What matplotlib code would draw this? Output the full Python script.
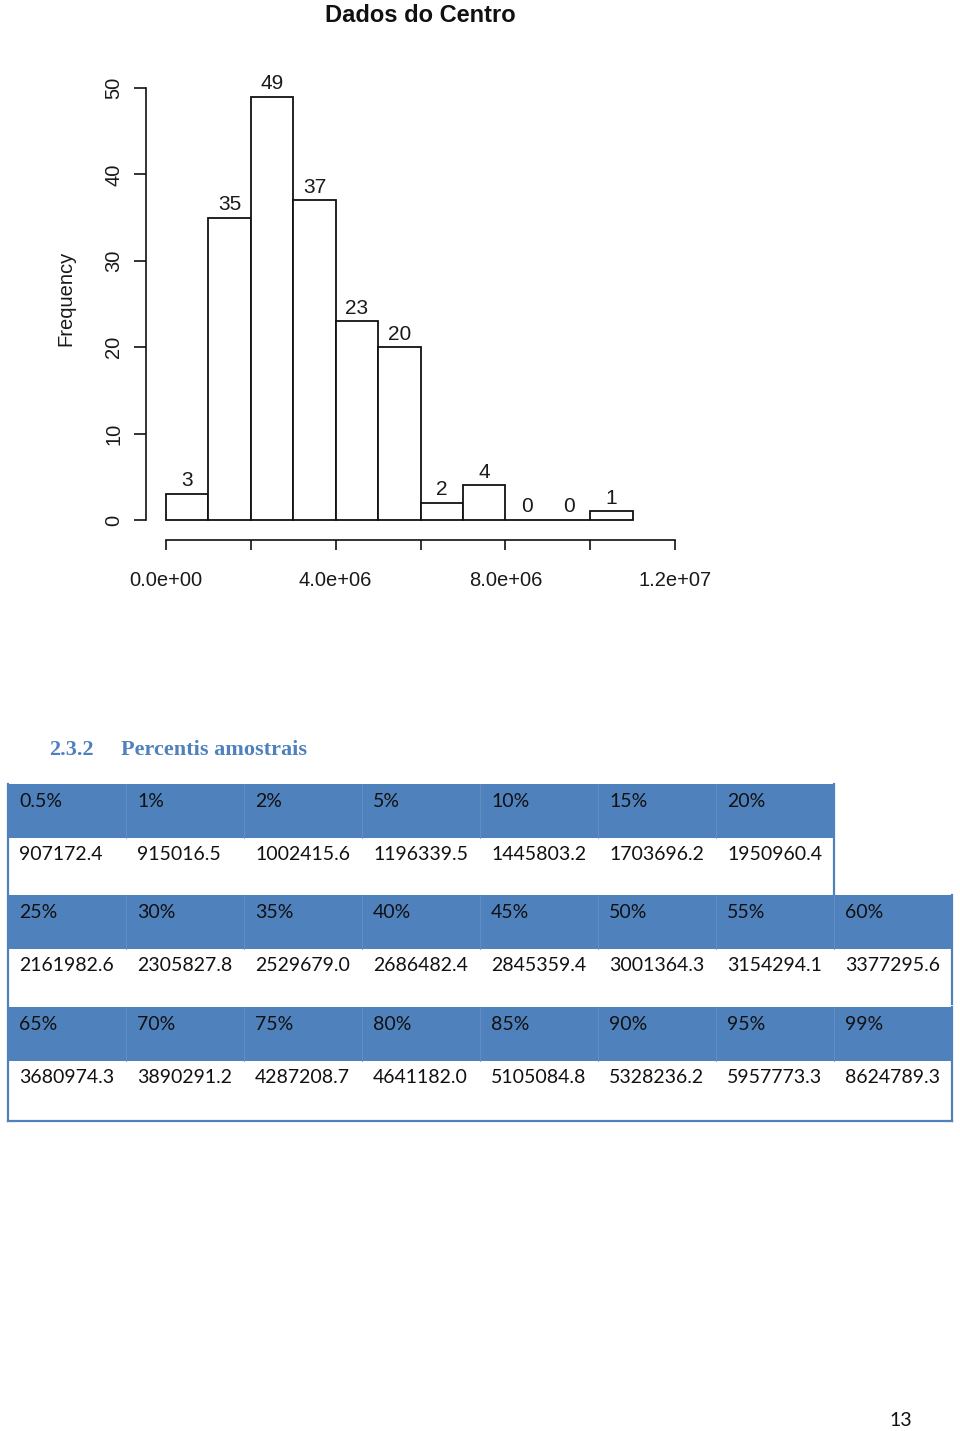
import numpy as np
import matplotlib
matplotlib.use("Agg")
import matplotlib.pyplot as plt
from matplotlib.patches import Rectangle

# histogram data (bins of 1e6)
bin_edges = [0, 1e6, 2e6, 3e6, 4e6, 5e6, 6e6, 7e6, 8e6, 9e6, 10e6, 11e6]
counts = [3, 35, 49, 37, 23, 20, 2, 4, 0, 0, 1]
ytick_values = [0, 10, 20, 30, 40, 50]
xtick_values = [0, 2e6, 4e6, 6e6, 8e6, 10e6, 12e6]
xtick_labels = ["0.0e+00", "", "4.0e+06", "", "8.0e+06", "", "1.2e+07"]

# percentile table
pct_labels = ["0.5%", "1%", "2%", "5%", "10%", "15%", "20%",
              "25%", "30%", "35%", "40%", "45%", "50%", "55%", "60%",
              "65%", "70%", "75%", "80%", "85%", "90%", "95%", "99%"]
pct_values = ["907172.4", "915016.5", "1002415.6", "1196339.5", "1445803.2", "1703696.2", "1950960.4",
              "2161982.6", "2305827.8", "2529679.0", "2686482.4", "2845359.4", "3001364.3", "3154294.1", "3377295.6",
              "3680974.3", "3890291.2", "4287208.7", "4641182.0", "5105084.8", "5328236.2", "5957773.3", "8624789.3"]
block_sizes = [7, 8, 8]

W, H = 960, 1431
fig = plt.figure(figsize=(W / 100, H / 100), dpi=100)
fig.patch.set_facecolor("white")

# ---- histogram ----
x0_px, px_per_m = 166, (675 - 166) / 12.0   # x = 0 at 166px, 1e6 per 42.4px
y0_px, px_per_u = 520, (520 - 88) / 50.0    # y = 0 at 520px
L, R, T, B = 130, 720, 70, 560
ax = fig.add_axes([L / W, 1 - B / H, (R - L) / W, (B - T) / H])
ax.set_xlim((L - x0_px) / px_per_m * 1e6, (R - x0_px) / px_per_m * 1e6)
ax.set_ylim((y0_px - B) / px_per_u, (y0_px - T) / px_per_u)
ax.patch.set_alpha(0)

lefts = np.array(bin_edges[:-1])
width = bin_edges[1] - bin_edges[0]
ax.bar(lefts, counts, width=width, align="edge", facecolor="white",
       edgecolor="#111111", linewidth=1.3)
for xl, c in zip(lefts, counts):
    ax.annotate(str(c), (xl + width / 2, c), xytext=(0, 5.5), textcoords="offset points",
                ha="center", va="baseline", fontsize=15, family="Liberation Sans", color="#1a1a1a")

for s in ["top", "right"]:
    ax.spines[s].set_visible(False)
ax.spines["left"].set_position(("data", (146 - x0_px) / px_per_m * 1e6))
ax.spines["left"].set_bounds(0, 50)
ax.spines["bottom"].set_position(("data", (y0_px - 540) / px_per_u))
ax.spines["bottom"].set_bounds(0, 12e6)
for s in ["left", "bottom"]:
    ax.spines[s].set_linewidth(1.2)
    ax.spines[s].set_color("#111111")

ax.set_yticks(ytick_values)
ax.set_yticklabels([str(v) for v in ytick_values], rotation=90, va="center",
                   fontsize=14.5, family="Liberation Sans", color="#1a1a1a")
ax.set_xticks(xtick_values)
ax.set_xticklabels(xtick_labels, fontsize=14.5, family="Liberation Sans", color="#1a1a1a")
ax.tick_params(axis="y", length=8.5, width=1.2, pad=8, color="#111111")
ax.tick_params(axis="x", length=7.5, width=1.2, pad=15, color="#111111")

fig.text(420 / W, 1 - 15 / H, "Dados do Centro", ha="center", va="center",
         fontsize=17, fontweight="bold", family="Liberation Sans", color="#111111")
fig.text(66 / W, 1 - 298 / H, "Frequency", ha="center", va="center", rotation=90,
         fontsize=14.5, family="Liberation Sans", color="#1a1a1a")

# ---- page overlay (heading, table, page number) ----
pg = fig.add_axes([0, 0, 1, 1])
pg.set_xlim(0, W)
pg.set_ylim(H, 0)
pg.axis("off")
pg.patch.set_alpha(0)

blue = "#4f81bd"
pg.text(49, 755, "2.3.2", fontsize=16, fontweight="bold", family="Liberation Serif", color=blue)
pg.text(121, 755, "Percentis amostrais", fontsize=16, fontweight="bold", family="Liberation Serif", color=blue)

col_w = 118
tbl_left = 8
block_tops = [784, 895, 1007]
head_h = 54
data_h = [57, 55, 60]
start = 0
for b, n in enumerate(block_sizes):
    top = block_tops[b]
    labels = pct_labels[start:start + n]
    values = pct_values[start:start + n]
    start += n
    right = tbl_left + n * col_w
    pg.add_patch(Rectangle((tbl_left, top), n * col_w, head_h, facecolor=blue, edgecolor="none"))
    for i in range(1, n):
        xs = tbl_left + i * col_w
        pg.plot([xs, xs], [top, top + head_h], color="#6690c6", lw=0.6)
    # right border of the data row
    pg.plot([right, right], [top, top + head_h + data_h[b]], color=blue, lw=1.6)
    for i in range(n):
        xl = tbl_left + i * col_w + 11
        pg.text(xl, top + 23, labels[i], fontsize=14, family="Lato", color="#111111", va="baseline")
        pg.text(xl, top + head_h + 22, values[i], fontsize=14, family="Lato", color="#111111", va="baseline")

tbl_bottom = block_tops[-1] + head_h + data_h[-1]
pg.plot([tbl_left, tbl_left], [block_tops[0], tbl_bottom], color=blue, lw=1.6)
pg.plot([tbl_left, tbl_left + 8 * col_w], [tbl_bottom, tbl_bottom], color=blue, lw=1.6)

pg.text(901, 1421, "13", ha="center", va="center", fontsize=14, family="Lato", color="#111111")

fig.savefig("out.png", dpi=100, facecolor="white")
